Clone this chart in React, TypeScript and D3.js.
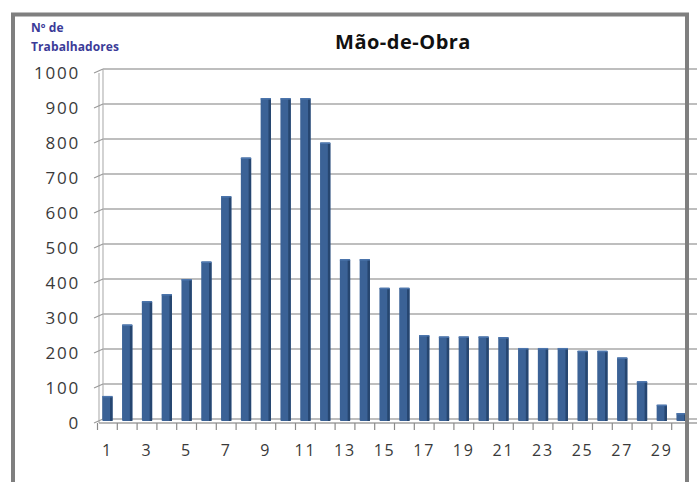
import React from "react";
import * as d3 from "d3";

const categories: number[] = d3.range(1, 31);
const values: number[] = [66, 270, 337, 357, 400, 450, 637, 747, 917, 917, 917, 790, 457, 457, 375, 375, 240, 236, 236, 236, 234, 203, 203, 203, 195, 195, 176, 108, 41, 17];
const yTicks: number[] = [0, 100, 200, 300, 400, 500, 600, 700, 800, 900, 1000];
const title = "Mão-de-Obra";
const yTitle = ["Nº de", "Trabalhadores"];

const W = 697;
const H = 482;

export default function App() {
  const y = d3.scaleLinear().domain([0, 1000]).range([419, 69]);
  const x = d3
    .scaleBand<number>()
    .domain(categories)
    .range([97.5, 97.5 + 30 * 19.8])
    .paddingInner(0.48)
    .paddingOuter(0.24);
  const step = x.step();
  const fontNum = "'Open Sans', 'DejaVu Sans', sans-serif";
  return (
    <svg width={W} height={H} style={{ position: "absolute", left: 0, top: 0, background: "#fff" }}>
      <rect x={0} y={0} width={W} height={H} fill="#fff" />
      {/* gridlines on back wall */}
      {yTicks.map((t) => (
        <line key={"g" + t} x1={103} x2={W} y1={y(t)} y2={y(t)} stroke="#a8a8a8" strokeWidth={1.6} />
      ))}
      {/* left wall */}
      <line x1={103} x2={103} y1={y(1000)} y2={y(0)} stroke="#b5b5b5" strokeWidth={1.2} />
      <line x1={99} x2={99} y1={y(1000) + 4} y2={y(0) + 4} stroke="#b5b5b5" strokeWidth={1.2} />
      {/* y ticks */}
      {yTicks.map((t) => (
        <g key={"t" + t}>
          <line x1={94} x2={103} y1={y(t) + 4} y2={y(t)} stroke="#9a9a9a" strokeWidth={1.2} />
          <text
            x={80}
            y={y(t) + 4}
            dy="0.36em"
            textAnchor="end"
            fontFamily={fontNum}
            fontSize={17}
            letterSpacing={1.8}
            fill="#3a3a3a"
          >
            {t}
          </text>
        </g>
      ))}
      {/* floor */}
      <line x1={99} x2={W} y1={y(0) + 4} y2={y(0) + 4} stroke="#a0a0a0" strokeWidth={1.4} />
      {categories.map((c, i) => (
        <line
          key={"xt" + c}
          x1={97.5 + i * step}
          x2={97.5 + i * step}
          y1={y(0) + 4}
          y2={y(0) + 11}
          stroke="#8a8a8a"
          strokeWidth={1.2}
        />
      ))}
      {/* bars */}
      {categories.map((c, i) => {
        const bx = x(c)!;
        const bw = x.bandwidth();
        const top = y(values[i]);
        const base = y(0) + 2;
        return (
          <g key={"b" + c}>
            <rect x={bx} y={top} width={bw} height={base - top} fill="#3b6296" rx={1} />
            <rect x={bx + bw - 2.5} y={top + 1} width={2.5} height={base - top - 1} fill="#264670" />
            <rect x={bx} y={top} width={bw} height={1.5} fill="#4d76ad" />
          </g>
        );
      })}
      {/* x labels */}
      {categories
        .filter((c) => c % 2 === 1)
        .map((c) => (
          <text
            key={"xl" + c}
            x={x(c)! + x.bandwidth() / 2}
            y={450}
            dy="0.36em"
            textAnchor="middle"
            fontFamily={fontNum}
            fontSize={16}
            letterSpacing={1.8}
            fill="#3a3a3a"
          >
            {c}
          </text>
        ))}
      {/* title */}
      <text
        x={403}
        y={49}
        textAnchor="middle"
        fontFamily="'Open Sans', sans-serif"
        fontWeight="bold"
        fontSize={20}
        letterSpacing={0.5}
        fill="#111"
      >
        {title}
      </text>
      {/* y title */}
      <text fontFamily="'Open Sans', sans-serif" fontWeight="bold" fontSize={12} letterSpacing={0.1} fill="#3b3b98">
        <tspan x={31} y={32}>{yTitle[0]}</tspan>
        <tspan x={31} y={51}>{yTitle[1]}</tspan>
      </text>
      {/* frame */}
      <line x1={13} x2={13} y1={13} y2={H} stroke="#7f7f7f" strokeWidth={4} />
      <line x1={11} x2={689} y1={14.5} y2={14.5} stroke="#7f7f7f" strokeWidth={4} />
      <line x1={687} x2={687} y1={13} y2={H} stroke="#7f7f7f" strokeWidth={4} />
    </svg>
  );
}
